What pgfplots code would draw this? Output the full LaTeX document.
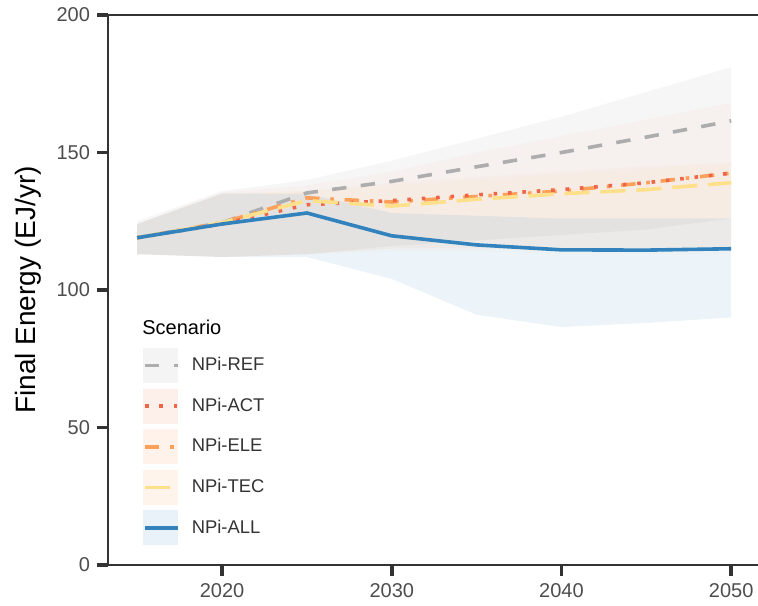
\documentclass[border=0pt]{standalone}
\usepackage{pgfplots}
\pgfplotsset{compat=1.18}
\usepgfplotslibrary{fillbetween}
\usepackage{fontspec}
\setmainfont{Liberation Sans}

\definecolor{refc}{HTML}{ADADAD}
\definecolor{actc}{HTML}{EF6548}
\definecolor{elec}{HTML}{FDA05A}
\definecolor{tecc}{HTML}{FEE08B}
\definecolor{allc}{HTML}{3182BD}
\definecolor{axc}{HTML}{333333}
\definecolor{lblc}{HTML}{4D4D4D}
% swatch fills for the legend keys
\definecolor{refk}{HTML}{F4F4F4}
\definecolor{actk}{HTML}{FDF0EA}
\definecolor{elek}{HTML}{FEF2EA}
\definecolor{teck}{HTML}{FEF4EB}
\definecolor{allk}{HTML}{E9F2F8}

% year, median, lower, upper of each scenario
\pgfplotstableread{
x    m      lo    hi
2015 119    113   125
2020 124.5  112   136
2025 135.3  113   140
2030 139.5  116   147
2035 144.8  118   155
2040 150    120   163
2045 155.6  122   172
2050 161.5  126   181
}\tref
\pgfplotstableread{
x    m      lo    hi
2015 119    113   124
2020 124    112   135.5
2025 131    113   138
2030 132.5  115   143
2035 134.6  115   150
2040 136.5  115   156
2045 139    115   162
2050 142.5  115   168
}\tact
\pgfplotstableread{
x    m      lo    hi
2015 119    113   124
2020 124.5  112   135
2025 133.5  113   136
2030 132    115   139
2035 134    115   141
2040 136    115   143
2045 139    115   145
2050 142.5  115   146.5
}\tele
\pgfplotstableread{
x    m      lo    hi
2015 119    113   124
2020 124.5  112   135
2025 132.5  113   136
2030 130.5  114   138
2035 133    114   140
2040 135    113   142
2045 136.5  113   144
2050 139    113   146
}\ttec
\pgfplotstableread{
x    m      lo    hi
2015 119    113   124
2020 124    112   135
2025 128    112   135
2030 119.7  104   128
2035 116.4  91    127
2040 114.6  86.5  126
2045 114.5  88    126
2050 115    90    126
}\tall

\pgfplotsset{
  bandkey/.style n args={3}{legend image code/.code={
    \fill[#1, draw=none] (0pt,-8.75pt) rectangle (17.5pt,8.75pt);
    \draw[#2, line width=1.8pt, #3] (1pt,0pt) -- (17.5pt,0pt);}},
}

\begin{document}
\begin{tikzpicture}
\begin{axis}[
  name=main, at={(0,0)}, anchor=south west,
  scale only axis, width=325pt, height=275pt,
  xmin=2013.28, xmax=2051.58, ymin=0, ymax=200,
  axis x line*=bottom, axis y line*=left,
  axis line style={-, line width=0.9pt, color=axc},
  xtick={2020,2030,2040,2050}, ytick={0,50,100,150,200},
  tick align=outside, major tick length=5.5pt,
  tick style={line width=1.8pt, color=axc},
  /pgf/number format/assume math mode=true,
  /pgf/number format/1000 sep={},
  ticklabel style={font=\fontsize{10}{12}\selectfont, text=lblc},
  ylabel={Final Energy (EJ/yr)},
  ylabel style={at={(axis description cs:-0.123,0.5)}, anchor=center,
    font=\fontsize{14}{16}\selectfont, text=black},
  legend style={at={(rel axis cs:0.0538,0.3945)}, anchor=north west,
    draw=none, fill=none, inner sep=0pt, outer sep=0pt,
    row sep=2.8pt, column sep=4pt,
    font=\fontsize{9.2}{11}\selectfont, text=axc},
  legend cell align=left,
  clip=false,
]
% ranges
\addplot[name path=refU, draw=none, forget plot] table[x=x, y=hi] {\tref};
\addplot[name path=refL, draw=none, forget plot] table[x=x, y=lo] {\tref};
\addplot[refc, fill opacity=0.11, draw=none, forget plot] fill between[of=refU and refL];
\addplot[name path=actU, draw=none, forget plot] table[x=x, y=hi] {\tact};
\addplot[name path=actL, draw=none, forget plot] table[x=x, y=lo] {\tact};
\addplot[actc, fill opacity=0.045, draw=none, forget plot] fill between[of=actU and actL];
\addplot[name path=eleU, draw=none, forget plot] table[x=x, y=hi] {\tele};
\addplot[name path=eleL, draw=none, forget plot] table[x=x, y=lo] {\tele};
\addplot[elec, fill opacity=0.035, draw=none, forget plot] fill between[of=eleU and eleL];
\addplot[name path=tecU, draw=none, forget plot] table[x=x, y=hi] {\ttec};
\addplot[name path=tecL, draw=none, forget plot] table[x=x, y=lo] {\ttec};
\addplot[tecc, fill opacity=0.05, draw=none, forget plot] fill between[of=tecU and tecL];
\addplot[name path=allU, draw=none, forget plot] table[x=x, y=hi] {\tall};
\addplot[name path=allL, draw=none, forget plot] table[x=x, y=lo] {\tall};
\addplot[allc, fill opacity=0.09, draw=none, forget plot] fill between[of=allU and allL];
% medians
\addplot[refc, line width=1.8pt, dash pattern=on 7.2pt off 7.2pt, forget plot] table[x=x, y=m] {\tref};
\addplot[elec, line width=1.8pt, dash pattern=on 1.8pt off 5.4pt on 7.2pt off 5.4pt, forget plot] table[x=x, y=m] {\tele};
\addplot[actc, line width=1.8pt, dash pattern=on 1.8pt off 5.4pt, forget plot] table[x=x, y=m] {\tact};
\addplot[tecc, line width=1.8pt, dash pattern=on 12.6pt off 5.4pt, forget plot] table[x=x, y=m] {\ttec};
\addplot[allc, line width=1.8pt, forget plot] table[x=x, y=m] {\tall};
% legend
\addlegendimage{bandkey={refk}{refc}{dash pattern=on 7.2pt off 7.2pt}}
\addlegendentry{NPi-REF}
\addlegendimage{bandkey={actk}{actc}{dash pattern=on 1.8pt off 5.4pt}}
\addlegendentry{NPi-ACT}
\addlegendimage{bandkey={elek}{elec}{dash pattern=on 7.2pt off 5.4pt on 1.8pt off 5.4pt}}
\addlegendentry{NPi-ELE}
\addlegendimage{bandkey={teck}{tecc}{dash pattern=on 12.6pt off 5.4pt}}
\addlegendentry{NPi-TEC}
\addlegendimage{bandkey={allk}{allc}{}}
\addlegendentry{NPi-ALL}
\draw[line width=0.9pt, axc] (rel axis cs:0,1) -- (rel axis cs:1,1);
\node[anchor=west, inner sep=0pt, font=\fontsize{10}{12}\selectfont, text=black]
  at (rel axis cs:0.0523,0.4327) {Scenario};
\end{axis}
\pgfresetboundingbox
\path[use as bounding box] (-54pt,-20pt) rectangle (325pt,282.5pt);
\end{tikzpicture}
\end{document}
